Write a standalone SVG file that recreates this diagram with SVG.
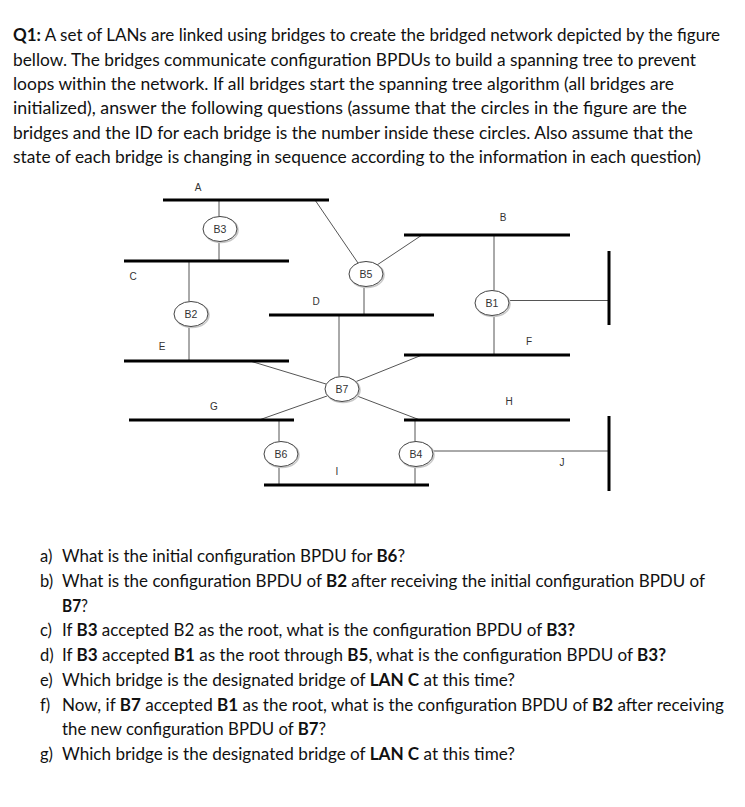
<svg xmlns="http://www.w3.org/2000/svg" width="745" height="807" viewBox="0 0 745 807">
<style>
.p{font-family:Lato,"Open Sans","Liberation Sans",sans-serif;font-size:16.5px;fill:#111}
.b{font-weight:bold}
.lan{stroke:#000;stroke-width:3;fill:none}
.con{stroke:#555;stroke-width:1;fill:none}
.br{fill:#fff;stroke:#444;stroke-width:1}
.sh{fill:none;stroke:#c8c8c8;stroke-width:1.6}
.bt{font-family:"Liberation Sans",Arial,sans-serif;font-size:10.5px;fill:#333;text-anchor:middle}
.lt{font-family:"Liberation Sans",Arial,sans-serif;font-size:10px;fill:#333;text-anchor:middle}
</style>
<rect width="745" height="807" fill="#fff"/>
<g id="intro">
<text class="p" x="13" y="41" textLength="707" lengthAdjust="spacingAndGlyphs"><tspan class="b">Q1:</tspan> A set of LANs are linked using bridges to create the bridged network depicted by the figure</text>
<text class="p" x="13" y="66" textLength="683" lengthAdjust="spacingAndGlyphs">bellow. The bridges communicate configuration BPDUs to build a spanning tree to prevent</text>
<text class="p" x="13" y="90" textLength="661" lengthAdjust="spacingAndGlyphs">loops within the network. If all bridges start the spanning tree algorithm (all bridges are</text>
<text class="p" x="13" y="114" textLength="674" lengthAdjust="spacingAndGlyphs">initialized), answer the following questions (assume that the circles in the figure are the</text>
<text class="p" x="13" y="139" textLength="680" lengthAdjust="spacingAndGlyphs">bridges and the ID for each bridge is the number inside these circles. Also assume that the</text>
<text class="p" x="13" y="163" textLength="688" lengthAdjust="spacingAndGlyphs">state of each bridge is changing in sequence according to the information in each question)</text>
</g>
<g id="connectors">
<line class="con" x1="219" y1="200" x2="219" y2="216.5"/>
<line class="con" x1="219" y1="241.5" x2="219" y2="261"/>
<line class="con" x1="189" y1="261" x2="189" y2="301.5"/>
<line class="con" x1="189" y1="326.5" x2="189" y2="361"/>
<line class="con" x1="315" y1="200" x2="358" y2="263"/>
<line class="con" x1="422" y1="235" x2="377" y2="265"/>
<line class="con" x1="364" y1="286.5" x2="364" y2="315"/>
<line class="con" x1="494" y1="235" x2="494" y2="290.5"/>
<line class="con" x1="509" y1="300.5" x2="609" y2="300.5"/>
<line class="con" x1="494" y1="315.5" x2="494" y2="355"/>
<line class="con" x1="339" y1="315" x2="339" y2="376.5"/>
<line class="con" x1="355" y1="382" x2="422" y2="355"/>
<line class="con" x1="357" y1="396" x2="420" y2="420"/>
<line class="con" x1="250" y1="361" x2="326" y2="384"/>
<line class="con" x1="259" y1="420" x2="327" y2="396"/>
<line class="con" x1="279" y1="420" x2="279" y2="441.5"/>
<line class="con" x1="279" y1="466.5" x2="279" y2="485"/>
<line class="con" x1="415" y1="420" x2="415" y2="441.5"/>
<line class="con" x1="432" y1="451" x2="609" y2="451"/>
<line class="con" x1="415" y1="466.5" x2="415" y2="485"/>
</g>
<g id="lan-A"><line class="lan" x1="163" y1="200" x2="329" y2="200"/><text class="lt" x="198" y="191">A</text></g>
<g id="lan-B"><line class="lan" x1="404" y1="235" x2="570" y2="235"/><text class="lt" x="503" y="221">B</text></g>
<g id="lan-C"><line class="lan" x1="124" y1="261" x2="289" y2="261"/><text class="lt" x="133" y="280">C</text></g>
<g id="lan-D"><line class="lan" x1="269" y1="315" x2="434" y2="315"/><text class="lt" x="316" y="305">D</text></g>
<g id="lan-E"><line class="lan" x1="124" y1="361" x2="289" y2="361"/><text class="lt" x="162" y="350">E</text></g>
<g id="lan-F"><line class="lan" x1="404" y1="355" x2="570" y2="355"/><text class="lt" x="529" y="345">F</text></g>
<g id="lan-G"><line class="lan" x1="129" y1="420" x2="294" y2="420"/><text class="lt" x="214" y="410">G</text></g>
<g id="lan-H"><line class="lan" x1="404" y1="420" x2="570" y2="420"/><text class="lt" x="509" y="405">H</text></g>
<g id="lan-I"><line class="lan" x1="264" y1="485" x2="429" y2="485"/><text class="lt" x="337" y="475">I</text></g>
<g id="lan-J"><line class="lan" x1="609" y1="416" x2="609" y2="491"/><text class="lt" x="562" y="466">J</text></g>
<g id="lan-right"><line class="lan" x1="609" y1="251" x2="609" y2="325"/></g>
<g id="B3"><ellipse class="sh" cx="221" cy="230" rx="17" ry="12.5"/><ellipse class="br" cx="220" cy="229" rx="17" ry="12.5"/><text class="bt" x="220" y="233">B3</text></g>
<g id="B2"><ellipse class="sh" cx="192" cy="315" rx="17" ry="12.5"/><ellipse class="br" cx="191" cy="314" rx="17" ry="12.5"/><text class="bt" x="191" y="318">B2</text></g>
<g id="B5"><ellipse class="sh" cx="367" cy="275" rx="17" ry="12.5"/><ellipse class="br" cx="366" cy="274" rx="17" ry="12.5"/><text class="bt" x="366" y="278">B5</text></g>
<g id="B1"><ellipse class="sh" cx="493" cy="304" rx="17" ry="12.5"/><ellipse class="br" cx="492" cy="303" rx="17" ry="12.5"/><text class="bt" x="492" y="307">B1</text></g>
<g id="B7"><ellipse class="sh" cx="343" cy="390" rx="17" ry="12.5"/><ellipse class="br" cx="342" cy="389" rx="17" ry="12.5"/><text class="bt" x="342" y="393">B7</text></g>
<g id="B6"><ellipse class="sh" cx="282" cy="455" rx="17" ry="12.5"/><ellipse class="br" cx="281" cy="454" rx="17" ry="12.5"/><text class="bt" x="281" y="458">B6</text></g>
<g id="B4"><ellipse class="sh" cx="417" cy="455" rx="17" ry="12.5"/><ellipse class="br" cx="416" cy="454" rx="17" ry="12.5"/><text class="bt" x="416" y="458">B4</text></g>
<g id="questions">
<text class="p" x="40" y="562">a)</text>
<text class="p" x="62" y="562" textLength="343" lengthAdjust="spacingAndGlyphs">What is the initial configuration BPDU for <tspan class="b">B6</tspan>?</text>
<text class="p" x="40" y="587">b)</text>
<text class="p" x="62" y="587" textLength="643" lengthAdjust="spacingAndGlyphs">What is the configuration BPDU of <tspan class="b">B2</tspan> after receiving the initial configuration BPDU of</text>
<text class="p" x="62" y="612" textLength="26" lengthAdjust="spacingAndGlyphs"><tspan class="b">B7</tspan>?</text>
<text class="p" x="40" y="636">c)</text>
<text class="p" x="62" y="636" textLength="513" lengthAdjust="spacingAndGlyphs">If <tspan class="b">B3</tspan> accepted B2 as the root, what is the configuration BPDU of <tspan class="b">B3?</tspan></text>
<text class="p" x="40" y="661">d)</text>
<text class="p" x="62" y="661" textLength="604" lengthAdjust="spacingAndGlyphs">If <tspan class="b">B3</tspan> accepted <tspan class="b">B1</tspan> as the root through <tspan class="b">B5</tspan>, what is the configuration BPDU of <tspan class="b">B3?</tspan></text>
<text class="p" x="40" y="686">e)</text>
<text class="p" x="62" y="686" textLength="453" lengthAdjust="spacingAndGlyphs">Which bridge is the designated bridge of <tspan class="b">LAN C</tspan> at this time?</text>
<text class="p" x="40" y="711">f)</text>
<text class="p" x="62" y="711" textLength="662" lengthAdjust="spacingAndGlyphs">Now, if <tspan class="b">B7</tspan> accepted <tspan class="b">B1</tspan> as the root, what is the configuration BPDU of <tspan class="b">B2</tspan> after receiving</text>
<text class="p" x="62" y="735" textLength="264" lengthAdjust="spacingAndGlyphs">the new configuration BPDU of <tspan class="b">B7</tspan>?</text>
<text class="p" x="40" y="760">g)</text>
<text class="p" x="62" y="760" textLength="453" lengthAdjust="spacingAndGlyphs">Which bridge is the designated bridge of <tspan class="b">LAN C</tspan> at this time?</text>
</g>
</svg>
